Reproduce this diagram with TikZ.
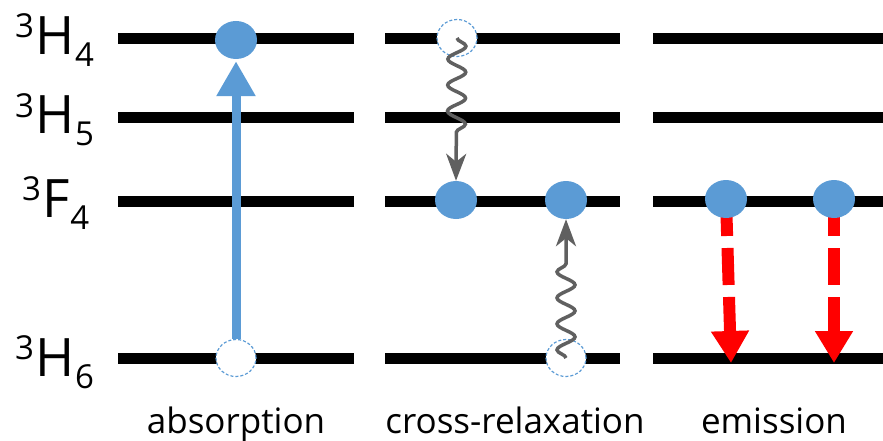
\documentclass[tikz,border=0pt]{standalone}
\usepackage{fontspec}
\setmainfont{Open Sans}
\usetikzlibrary{arrows.meta,shapes.geometric,decorations.pathmorphing}
\definecolor{eblue}{HTML}{5B9BD5}
\definecolor{wgray}{HTML}{606060}
\pgfdeclarelayer{bg}
\pgfdeclarelayer{fg}
\pgfsetlayers{bg,main,fg}
\newcommand{\lvlab}[2]{{\fontsize{33}{33}\selectfont\raisebox{17pt}{3}}\kern1pt{\fontsize{53}{53}\selectfont #1}\kern1pt{\fontsize{33}{33}\selectfont\raisebox{-12pt}{#2}}}
\tikzset{
  level/.style={line width=11pt, black},
  full/.style={ellipse, fill=eblue, inner sep=0pt, minimum width=42pt, minimum height=38pt},
  empty/.style={ellipse, fill=white, draw=eblue, line width=1.2pt, dash pattern=on 3pt off 2pt, inner sep=0pt, minimum width=40pt, minimum height=37pt},
  absarrow/.style={eblue, line width=9pt, -{Triangle[width=37pt,length=35pt]}},
  wavy/.style={wgray, line width=3.5pt, -{Stealth[length=27pt,width=20pt,inset=8pt]}, decorate},
  emarrow/.style={red, line width=12pt, dash pattern=on 37pt off 12pt, -{Triangle[width=36pt,length=32pt]}},
  lab/.style={font=\fontsize{35}{35}\selectfont, anchor=base, inner sep=0pt},
  lvl/.style={anchor=base west, inner sep=0pt}
}
\begin{document}
\begin{tikzpicture}[x=1pt,y=-1pt]
\useasboundingbox (0,0) rectangle (883,441);
% level labels
\node[lvl] (l1) at (15,55) {\lvlab{H}{4}};
\node[lvl] (l2) at (15,134) {\lvlab{H}{5}};
\node[lvl] (l3) at (22,217) {\lvlab{F}{4}};
\node[lvl] (l4) at (15,376) {\lvlab{H}{6}};
% energy levels
\begin{pgfonlayer}{bg}
\foreach \y in {39,118,201,358}{
  \draw[level] (118,\y) -- (354,\y);
  \draw[level] (385,\y) -- (620,\y);
  \draw[level] (653,\y) -- (883,\y);
}
\end{pgfonlayer}
% empty states (below the transition arrows)
\node[empty] (a0) at (236,358) {};
\node[empty] (c1) at (457,38) {};
\node[empty] (c4) at (566,358) {};
% occupied states (on top)
\begin{pgfonlayer}{fg}
\node[full]  (a1) at (236,40) {};
\node[full]  (c2) at (456,200) {};
\node[full]  (c3) at (566,200) {};
\node[full]  (e1) at (726,199) {};
\node[full]  (e2) at (834,199) {};
\end{pgfonlayer}
\coordinate (t1) at (731,363);
\coordinate (t2) at (834,363);
% transitions
\draw[absarrow, shorten >=2pt] (a0.north) -- (a1.south);
\draw[wavy, decoration={snake, amplitude=9pt, segment length=26pt, post length=44pt}] (c1.center) -- (c2.north);
\draw[wavy, decoration={snake, amplitude=9pt, segment length=26pt, post length=34pt}] (c4.center) -- (c3.south);
\draw[emarrow] (e1.center) -- (t1);
\draw[emarrow] (e2.center) -- (t2);
% captions
\node[lab] (n1) at (236,433) {absorption};
\node[lab] (n2) at (515,433) {cross-relaxation};
\node[lab] (n3) at (774,433) {emission};
\end{tikzpicture}
\end{document}
